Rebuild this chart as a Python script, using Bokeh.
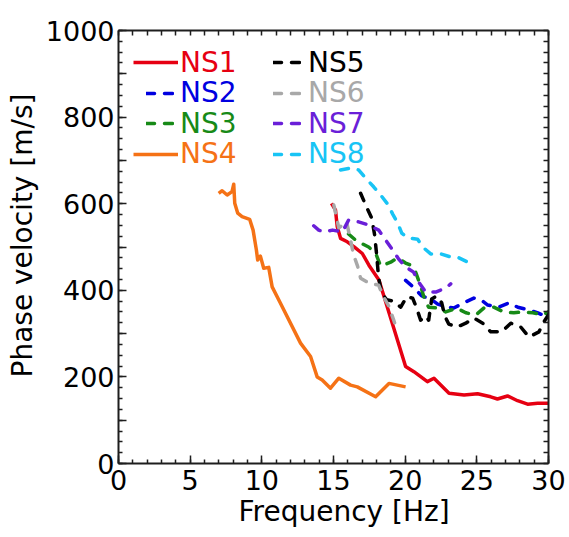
from bokeh.plotting import figure
from bokeh.models import FixedTicker, LinearAxis, Legend, LegendItem, Range1d, Title
from bokeh.embed import file_html
from bokeh.resources import INLINE

FONT = "DejaVu Sans"

# ---- data (frequency in Hz, phase velocity in m/s) ----
ns1_f = [14.86, 15.14, 15.26, 15.49, 15.96, 16.42, 17.01, 17.47, 18.17, 20.03, 20.61, 21.55, 22.01,
         23.06, 24.11, 25.05, 25.97, 26.44, 27.14, 27.84, 28.54, 29.24, 30.05]
ns1_v = [601, 585, 547, 520, 512, 501, 485, 458, 424, 224, 212, 189, 197,
         162, 158, 161, 154, 149, 156, 145, 137, 139, 139]

ns2_f = [20.03, 20.59, 21.15, 21.78, 22.27, 22.97, 23.39, 24.09, 24.79, 25.28, 25.76, 26.53, 27.23,
         27.86, 28.56, 29.26, 30.03]
ns2_v = [423, 407, 387, 380, 368, 361, 359, 371, 382, 378, 366, 361, 371,
         361, 355, 348, 336]

ns3_f = [16.05, 16.54, 17.03, 17.45, 17.94, 18.29, 18.99, 19.48, 20.03, 20.38, 20.73, 21.08, 21.36,
         21.64, 22.34, 22.83, 23.60, 24.23, 24.93, 25.49, 26.18, 26.88, 27.58, 28.21, 28.91, 29.61, 30.10]
ns3_v = [530, 516, 507, 500, 486, 456, 465, 475, 463, 458, 442, 410, 378,
         361, 359, 350, 359, 348, 343, 359, 361, 350, 348, 350, 348, 343, 352]

ns4_f = [6.99, 7.23, 7.58, 7.92, 8.04, 8.11, 8.32, 8.62, 9.15, 9.39, 9.62, 9.71, 9.90, 10.13, 10.48,
         10.72, 11.30, 12.70, 13.40, 13.86, 14.21, 14.79, 15.37, 16.19, 16.66, 17.94, 18.87, 19.45, 20.03]
ns4_v = [624, 630, 620, 628, 645, 601, 578, 570, 564, 539, 493, 470, 479, 451, 453,
         408, 370, 278, 247, 200, 193, 174, 197, 181, 177, 154, 185, 181, 177]

ns5_f = [16.89, 17.31, 17.66, 17.87, 18.01, 18.15, 18.36, 18.71, 19.20, 19.69, 20.11, 20.52, 20.80,
         21.08, 21.43, 21.64, 21.85, 22.20, 22.55, 22.76, 23.04, 23.60, 24.23, 24.79, 25.41, 25.97,
         26.74, 27.37, 28.07, 28.63, 29.33, 29.75, 30.03]
ns5_v = [624, 592, 567, 528, 482, 428, 394, 378, 375, 361, 385, 382, 359,
         331, 341, 331, 380, 387, 371, 341, 322, 315, 324, 336, 324, 304,
         304, 324, 315, 292, 304, 331, 345]

ns6_f = [15.02, 15.37, 15.91, 16.19, 16.40, 16.68, 16.89, 17.45, 18.15, 18.43, 18.85, 19.20, 19.48]
ns6_v = [597, 544, 558, 516, 482, 456, 428, 417, 412, 389, 364, 331, 304]

ns7_f = [13.62, 13.97, 14.32, 14.93, 15.63, 16.05, 16.75, 17.45, 18.15, 18.64, 19.13, 19.55, 20.03,
         20.59, 20.94, 21.43, 22.13, 22.83, 23.18]
ns7_v = [549, 539, 535, 539, 535, 562, 558, 551, 539, 516, 493, 472, 454,
         442, 419, 396, 396, 405, 415]

ns8_f = [15.49, 16.19, 16.75, 17.24, 17.80, 18.29, 18.78, 19.13, 19.48, 19.76, 20.17, 20.87, 21.22,
         21.78, 22.48, 23.18, 23.74, 24.37]
ns8_v = [678, 682, 678, 659, 639, 620, 599, 576, 555, 532, 521, 518, 500,
         484, 484, 477, 475, 465]

series_names = ["NS1", "NS2", "NS3", "NS4", "NS5", "NS6", "NS7", "NS8"]
series_f = [ns1_f, ns2_f, ns3_f, ns4_f, ns5_f, ns6_f, ns7_f, ns8_f]
series_v = [ns1_v, ns2_v, ns3_v, ns4_v, ns5_v, ns6_v, ns7_v, ns8_v]
series_colors = ["#e60012", "#0000e0", "#178a17", "#f57216", "#000000", "#a8a8a8", "#6a1fd8", "#18c4f5"]
series_dashed = [False, True, True, False, True, True, True, True]

x_ticks = [0, 5, 10, 15, 20, 25, 30]
x_minor = list(range(0, 31))
y_ticks = list(range(0, 1001, 100))
y_minor = list(range(0, 1001, 25))
y_labels_shown = [0, 200, 400, 600, 800, 1000]
x_title = "Frequency [Hz]"
y_title = "Phase velocity [m/s]"

AX_COLOR = "#1e1e1e"

p = figure(width=568, height=537, output_backend="svg", toolbar_location=None,
           x_range=Range1d(0, 30), y_range=Range1d(0, 1000),
           x_axis_type=None, y_axis_type=None,
           min_border_left=118, min_border_right=20, min_border_top=30, min_border_bottom=74)
p.outline_line_color = None
p.background_fill_color = "white"
p.border_fill_color = "white"


def style_axis(ax, show_labels):
    ax.axis_line_color = AX_COLOR
    ax.axis_line_width = 2
    ax.major_tick_in = 8
    ax.major_tick_out = 0
    ax.minor_tick_in = 4
    ax.minor_tick_out = 0
    ax.major_tick_line_color = AX_COLOR
    ax.minor_tick_line_color = AX_COLOR
    ax.major_tick_line_width = 1.5
    ax.minor_tick_line_width = 1.5
    if show_labels:
        ax.major_label_text_font = FONT
        ax.major_label_text_font_size = "27px"
        ax.major_label_text_color = "black"


xb = LinearAxis(ticker=FixedTicker(ticks=x_ticks, minor_ticks=x_minor), major_label_standoff=6)
style_axis(xb, True)
p.add_layout(xb, "below")
yl = LinearAxis(ticker=FixedTicker(ticks=y_ticks, minor_ticks=y_minor), major_label_standoff=4,
                major_label_overrides={t: "" for t in y_ticks if t not in y_labels_shown})
style_axis(yl, True)
p.add_layout(yl, "left")
# mirrored frame sides: tick marks only, no labels
xa = LinearAxis(ticker=FixedTicker(ticks=[], minor_ticks=x_minor))
style_axis(xa, False)
xa.minor_tick_in = 5
p.add_layout(xa, "above")
yr = LinearAxis(ticker=FixedTicker(ticks=[], minor_ticks=y_minor))
style_axis(yr, False)
yr.minor_tick_in = 5
p.add_layout(yr, "right")

# axis titles (as side titles so they can be offset like in the reference)
p.add_layout(Title(text=x_title, align="left", offset=120, vertical_align="top", standoff=4,
                   text_font=FONT, text_font_size="28px", text_font_style="normal",
                   text_color="black"), "below")
p.add_layout(Title(text=y_title, align="left", offset=86, vertical_align="bottom", standoff=7,
                   text_font=FONT, text_font_size="28px", text_font_style="normal",
                   text_color="black"), "left")

renderers = []
for name, f, v, c, d in zip(series_names, series_f, series_v, series_colors, series_dashed):
    r = p.line(f, v, line_color=c, line_width=3.5,
               line_dash="8 10" if d else "solid", line_cap="round" if d else "butt",
               line_join="round")
    renderers.append(r)

# one legend per entry so that each label keeps its own colour
leg_x = [15, 28, 28, 15, 155, 155, 155, 155]
leg_w = [45, 28, 28, 45, 28, 28, 28, 28]
leg_y = [384.5, 354, 323.5, 293, 384.5, 354, 323.5, 293]
leg_sd = [2, 6, 6, 2, 7, 7, 7, 7]
for i, (name, c) in enumerate(zip(series_names, series_colors)):
    lg = Legend(items=[LegendItem(label=name, renderers=[renderers[i]])],
                location=(leg_x[i], leg_y[i]), orientation="vertical",
                padding=0, margin=0, spacing=0, glyph_width=leg_w[i], glyph_height=20,
                label_standoff=leg_sd[i], label_text_font=FONT, label_text_font_size="28px",
                label_text_color=c, border_line_color=None, background_fill_alpha=0)
    p.add_layout(lg, "center")

open("out.html", "w").write(file_html(p, INLINE))
